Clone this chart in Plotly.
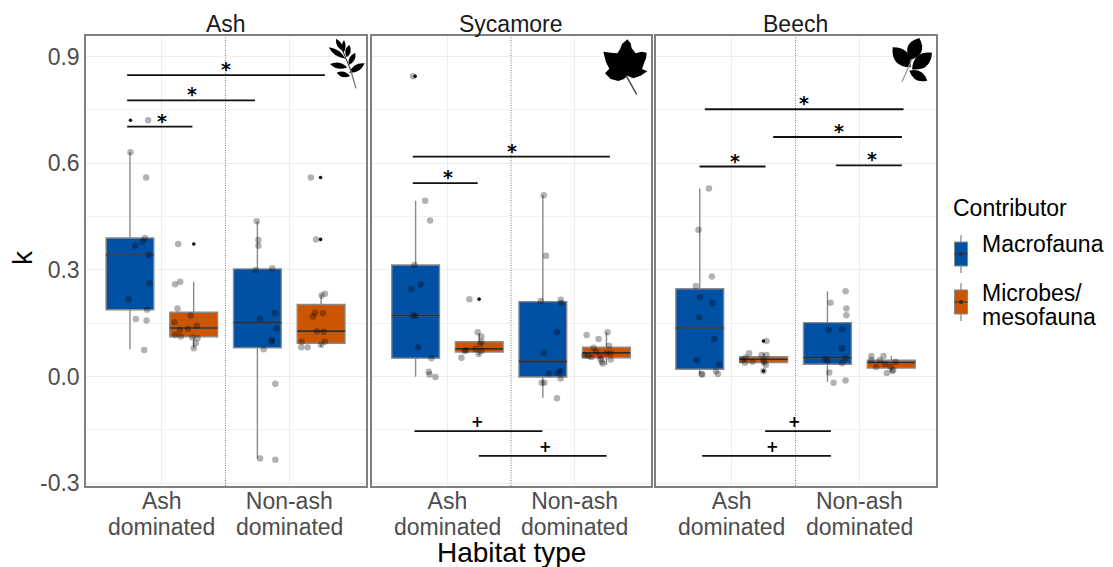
import plotly.graph_objects as go

W, H = 1113, 567
FONT = "Liberation Sans"
BLUE = "#0050A4"
ORANGE = "#CC5500"

categories = ["Ash", "Non-ash"]
category_line2 = ["dominated", "dominated"]
panels = ["Ash", "Sycamore", "Beech"]
box_x = [0.75, 1.25, 1.75, 2.25]
contributors = ["Macrofauna", "Microbes/", "mesofauna"]

# box statistics per panel: macro/ash, micro/ash, macro/non-ash, micro/non-ash
ash_q1 = [0.188, 0.112, 0.081, 0.094]
ash_med = [0.342, 0.137, 0.152, 0.128]
ash_q3 = [0.390, 0.181, 0.303, 0.203]
ash_low = [0.077, 0.080, -0.230, 0.084]
ash_high = [0.631, 0.267, 0.437, 0.230]

syc_q1 = [0.052, 0.069, -0.001, 0.053]
syc_med = [0.172, 0.078, 0.043, 0.067]
syc_q3 = [0.314, 0.098, 0.211, 0.083]
syc_low = [0.000, 0.061, -0.059, 0.033]
syc_high = [0.495, 0.122, 0.510, 0.125]

bee_q1 = [0.021, 0.040, 0.035, 0.024]
bee_med = [0.137, 0.049, 0.053, 0.040]
bee_q3 = [0.247, 0.056, 0.152, 0.046]
bee_low = [0.008, 0.033, -0.014, 0.014]
bee_high = [0.529, 0.066, 0.240, 0.058]

# jittered observations
ash_pts_x = [.754, .877, .867, .848, .791, .898, .903, .739, .885, .796, .880, .862, .893,
             1.128, 1.144, 1.104, 1.123, 1.227, 1.099, 1.274, 1.141, 1.204, 1.104, 1.149, 1.240, 1.280, 1.266, 1.251,
             1.745, 1.758, 1.758, 1.737, 1.867, 1.771, 1.891, 1.899, 1.862, 1.862, 1.799, 1.891, 1.771, 1.891,
             2.170, 2.210, 2.280, 2.254, 2.202, 2.264, 2.186, 2.217, 2.270, 2.097, 2.280, 2.249, 2.094, 2.144]
ash_pts_y = [.631, .560, .390, .380, .368, .342, .263, .218, .188, .162, .158, .075, .721,
             .373, .267, .260, .192, .172, .153, .143, .131, .135, .117, .113, .110, .108, .094, .080,
             .437, .384, .368, .300, .305, .163, .178, .136, .103, .098, .077, -.020, -.230, -.234,
             .560, .386, .233, .228, .180, .178, .169, .128, .126, .098, .098, .090, .083, .083]
ash_out_x = [.754, 1.251, 2.246, 2.246]
ash_out_y = [.721, .373, .560, .386]

syc_pts_x = [.730, .825, .864, .741, .788, .717, .728, .749, .770, .874, .853, .859, .906,
             1.173, 1.238, 1.267, 1.267, 1.257, 1.220, 1.270, 1.134, 1.147, 1.246, 1.110,
             1.757, 1.775, 1.733, 1.890, 1.895, 1.861, 1.757, 1.796, 1.866, 1.890, 1.890, 1.741, 1.762, 1.861,
             2.094, 2.188, 2.259, 2.270, 2.149, 2.170, 2.076, 2.107, 2.131, 2.199, 2.249, 2.283, 2.204, 2.215, 2.220, 2.283]
syc_pts_y = [.845, .495, .439, .314, .259, .246, .172, .171, .083, .052, .014, .006, -.001,
             .218, .125, .113, .098, .092, .078, .072, .072, .074, .064, .053,
             .510, .340, .213, .216, .207, .125, .067, .009, .011, .015, -.005, -.017, -.017, -.061,
             .117, .106, .125, .087, .081, .070, .060, .058, .055, .058, .066, .066, .049, .042, .037, .048]
syc_out_x = [.746, 1.249]
syc_out_y = [.845, .218]

bee_pts_x = [.822, .740, .845, .719, .751, .850, .745, .864, .727, .903, .877, .764, .769, .892,
             1.273, 1.136, 1.234, 1.273, 1.110, 1.084, 1.163, 1.105, 1.268, 1.249, 1.255, 1.249,
             1.892, 1.774, 1.898, 1.898, 1.759, 1.864, 1.864, 1.732, 1.892, 1.751, 1.864, 1.764, 1.798, 1.892,
             2.094, 2.189, 2.160, 2.094, 2.283, 2.199, 2.131, 2.244, 2.265, 2.257, 2.215]
bee_pts_y = [.529, .413, .282, .255, .223, .207, .167, .106, .046, .034, .015, .0075, .006, .0075,
             .100, .066, .061, .061, .054, .047, .042, .039, .033, .045, .040, .016,
             .240, .208, .192, .173, .131, .133, .079, .049, .052, .045, .038, .012, -.017, -.011,
             .058, .058, .047, .047, .042, .035, .027, .028, .019, .016, .010]
bee_out_x = [1.249, 1.249]
bee_out_y = [.100, .016]

# significance bars and their marks
ash_bar_x0 = [.728, .728, .728]
ash_bar_x1 = [2.280, 1.731, 1.240]
ash_bar_y = [.848, .777, .703]
ash_mark_x = [1.500, 1.240, 1.000]
ash_mark = ["*", "*", "*"]

syc_bar_x0 = [.728, .728, .741, 1.246]
syc_bar_x1 = [2.277, 1.238, 1.746, 2.251]
syc_bar_y = [.619, .544, -.153, -.223]
syc_mark_x = [1.505, 1.005, 1.238, 1.770]
syc_mark = ["*", "*", "+", "+"]

bee_bar_x0 = [.790, 1.325, .748, 1.816, 1.262, .769]
bee_bar_x1 = [2.346, 2.333, 1.265, 2.333, 1.777, 1.777]
bee_bar_y = [.752, .674, .591, .594, -.153, -.223]
bee_mark_x = [1.570, 1.843, 1.029, 2.097, 1.493, 1.323]
bee_mark = ["*", "*", "*", "*", "+", "+"]

q1s = [ash_q1, syc_q1, bee_q1]
meds = [ash_med, syc_med, bee_med]
q3s = [ash_q3, syc_q3, bee_q3]
lows = [ash_low, syc_low, bee_low]
highs = [ash_high, syc_high, bee_high]
pts = [(ash_pts_x, ash_pts_y), (syc_pts_x, syc_pts_y), (bee_pts_x, bee_pts_y)]
outs = [(ash_out_x, ash_out_y), (syc_out_x, syc_out_y), (bee_out_x, bee_out_y)]
bars = [(ash_bar_x0, ash_bar_x1, ash_bar_y, ash_mark_x, ash_mark),
        (syc_bar_x0, syc_bar_x1, syc_bar_y, syc_mark_x, syc_mark),
        (bee_bar_x0, bee_bar_x1, bee_bar_y, bee_mark_x, bee_mark)]

panel_px = [(86.0, 365.7), (371.7, 651.0), (655.7, 936.0)]
top_px, bot_px = 36.0, 486.0
YR = [-0.3075, 0.958]


def px(x):
    return x / W


def py(y):
    return 1 - y / H


def text(x, y, s, size, color="#000000", anchor="left"):
    return dict(x=px(x), y=py(y), xref="paper", yref="paper", text=s, showarrow=False, xanchor=anchor,
                yanchor="middle", font=dict(family=FONT, size=size, color=color))


fig = go.Figure()
shapes = []
annotations = []

for i, panel in enumerate(panels):
    s = "" if i == 0 else str(i + 1)
    xa, ya = "x" + s, "y" + s
    # boxes
    for j, bx in enumerate(box_x):
        col = BLUE if j % 2 == 0 else ORANGE
        fig.add_trace(go.Box(x=[bx], q1=[q1s[i][j]], median=[meds[i][j]], q3=[q3s[i][j]],
                             lowerfence=[lows[i][j]], upperfence=[highs[i][j]], width=0.375,
                             fillcolor=col, line=dict(color="#8a8a8a", width=1.4), whiskerwidth=0,
                             boxpoints=False, showlegend=False, xaxis=xa, yaxis=ya, hoverinfo="skip"))
        fig.add_trace(go.Scatter(x=[bx - 0.1875, bx + 0.1875], y=[meds[i][j]] * 2, mode="lines",
                                 line=dict(color="#2f2f2f", width=1.6), showlegend=False,
                                 xaxis=xa, yaxis=ya, hoverinfo="skip"))
    # divider
    fig.add_trace(go.Scatter(x=[1.5, 1.5], y=YR, mode="lines", line=dict(color="#7a7a7a", width=1, dash="1px,1.5px"),
                             showlegend=False, xaxis=xa, yaxis=ya, hoverinfo="skip"))
    # jitter + outliers
    fig.add_trace(go.Scatter(x=pts[i][0], y=pts[i][1], mode="markers",
                             marker=dict(color="rgba(0,0,0,0.3)", size=6.5, line=dict(width=0)),
                             showlegend=False, xaxis=xa, yaxis=ya))
    fig.add_trace(go.Scatter(x=outs[i][0], y=outs[i][1], mode="markers",
                             marker=dict(color="#111111", size=3.6, line=dict(width=0)),
                             showlegend=False, xaxis=xa, yaxis=ya))
    # significance
    x0s, x1s, ys, mxs, ms = bars[i]
    for a, b, y, mx, m in zip(x0s, x1s, ys, mxs, ms):
        fig.add_trace(go.Scatter(x=[a, b], y=[y, y], mode="lines", line=dict(color="#111111", width=1.8),
                                 showlegend=False, xaxis=xa, yaxis=ya, hoverinfo="skip"))
        annotations.append(dict(x=mx, y=y, xref=xa, yref=ya, text=f"<b>{m}</b>", showarrow=False,
                                xanchor="center", yanchor="middle", yshift=6 if m == "*" else 9,
                                font=dict(family="DejaVu Sans", size=19 if m == "*" else 15, color="#000000")))
    # strip title
    annotations.append(text(sum(panel_px[i]) / 2, 24, panel, 23, "#1a1a1a", "center"))
    # second line of tick labels
    for cat, line2 in zip([1, 2], category_line2):
        annotations.append(dict(x=cat, y=py(527), xref=xa, yref="paper", text=line2, showarrow=False,
                                xanchor="center", yanchor="middle",
                                font=dict(family=FONT, size=23, color="#4d4d4d")))
    xax = dict(domain=[px(panel_px[i][0]), px(panel_px[i][1])], range=[0.405, 2.6], tickvals=[1, 2],
               ticktext=categories, ticks="", showgrid=True, gridcolor="#EDEDED", gridwidth=1.4, zeroline=False,
               showline=True, linecolor="#7f7f7f", linewidth=1.5, mirror=True, anchor=ya, automargin=False,
               tickfont=dict(family=FONT, size=23, color="#4d4d4d"), ticklabelstandoff=-6)
    yax = dict(domain=[py(bot_px), py(top_px)], range=YR, tickvals=[-0.3, 0, 0.3, 0.6, 0.9],
               ticktext=["-0.3", "0.0", "0.3", "0.6", "0.9"], ticks="", showgrid=True, gridcolor="#EDEDED",
               gridwidth=1.4, zeroline=False, showline=True, linecolor="#7f7f7f", linewidth=1.5, mirror=True,
               anchor=xa, showticklabels=i == 0, automargin=False,
               minor=dict(tickvals=[-0.15, 0.15, 0.45, 0.75], showgrid=True, gridcolor="#F2F2F2", gridwidth=1),
               tickfont=dict(family=FONT, size=23, color="#4d4d4d"), ticklabelstandoff=0)
    fig.update_layout({"xaxis" + s: xax, "yaxis" + s: yax})

annotations.append(text(511, 552, "Habitat type", 28, "#000000", "center"))
annotations.append(dict(x=px(22), y=py(258), xref="paper", yref="paper", text="k", showarrow=False, textangle=-90,
                        xanchor="center", yanchor="middle", font=dict(family=FONT, size=28, color="#000000")))


def icon(points, ox, oy):
    d = "M" + " L".join(f"{px(ox + a / 3):.5f},{py(oy + b / 3):.5f}" for a, b in points) + " Z"
    return dict(type="path", xref="paper", yref="paper", path=d, fillcolor="#000000", line=dict(width=0), layer="above")


def leaflet(b, t, w, ox, oy):
    # pointed leaf between base b and tip t, in zoom coordinates
    mx, my = (b[0] + t[0]) / 2, (b[1] + t[1]) / 2
    dx, dy = t[0] - b[0], t[1] - b[1]
    L = (dx * dx + dy * dy) ** 0.5
    nx, ny = -dy / L * w, dx / L * w
    c = lambda a, e: f"{px(ox + a / 3):.5f},{py(oy + e / 3):.5f}"
    d = (f"M{c(*b)} Q{c(mx + 2 * nx, my + 2 * ny)} {c(*t)} Q{c(mx - 2 * nx, my - 2 * ny)} {c(*b)} Z")
    return dict(type="path", xref="paper", yref="paper", path=d, fillcolor="#000000", line=dict(width=0), layer="above")


def stem(a, b, ox, oy, col="#555555", w=1.3):
    return dict(type="line", xref="paper", yref="paper", x0=px(ox + a[0] / 3), y0=py(oy + a[1] / 3),
                x1=px(ox + b[0] / 3), y1=py(oy + b[1] / 3), line=dict(color=col, width=w), layer="above")


# Ash leaf
for b, t, w in [((868, 188), (914, 160), 10), ((870, 198), (830, 188), 8), ((862, 172), (810, 162), 9),
                ((866, 165), (886, 128), 8), ((856, 146), (806, 112), 8), ((860, 142), (868, 104), 8),
                ((848, 122), (828, 86), 7), ((850, 128), (852, 90), 6)]:
    shapes.append(leaflet(b, t, w, 60, 10))
shapes.append(stem((888, 235), (872, 180), 60, 10, "#777777", 1.3))
shapes.append(stem((872, 180), (845, 115), 60, 10, "#222222", 1.0))

# Sycamore leaf
syc_leaf = [(772, 88), (782, 100), (785, 115), (797, 130), (815, 125), (830, 128), (828, 145), (822, 160), (816, 177),
            (832, 184), (812, 197), (790, 205), (772, 197), (762, 207), (745, 213), (722, 207), (705, 190), (718, 176),
            (708, 157), (700, 125), (722, 128), (742, 130), (750, 118), (756, 102)]
shapes.append(icon(syc_leaf, 370, 10))
shapes.append(stem((768, 196), (800, 253), 370, 10, "#444444", 1.4))

# Beech leaves
for b, t, w in [((782, 172), (728, 112), 22), ((780, 150), (808, 84), 22), ((786, 178), (846, 128), 20),
                ((778, 182), (832, 212), 14)]:
    shapes.append(leaflet(b, t, w, 650, 10))
shapes.append(stem((756, 215), (786, 148), 650, 10, "#999999", 1.3))

# legend keys
key_x = 961.0
for (y_low, y0, y1, y_high, col) in [(273, 266, 242, 235, BLUE), (321, 314, 290, 283, ORANGE)]:
    shapes.append(dict(type="line", xref="paper", yref="paper", x0=px(key_x), x1=px(key_x), y0=py(y_low), y1=py(y_high),
                       line=dict(color="#8a8a8a", width=1.3)))
    shapes.append(dict(type="rect", xref="paper", yref="paper", x0=px(key_x - 6.5), x1=px(key_x + 6.5), y0=py(y0), y1=py(y1),
                       fillcolor=col, line=dict(color="#8a8a8a", width=1)))
    m = (y0 + y1) / 2
    shapes.append(dict(type="line", xref="paper", yref="paper", x0=px(key_x - 6.5), x1=px(key_x + 6.5), y0=py(m), y1=py(m),
                       line=dict(color="#2f2f2f", width=1)))
    shapes.append(dict(type="circle", xref="paper", yref="paper", x0=px(key_x - 2), x1=px(key_x + 2), y0=py(m + 2), y1=py(m - 2),
                       fillcolor="#2f2f2f", line=dict(width=0)))

annotations.append(text(950.5, 208, "Contributor", 23))
annotations.append(text(980, 244, contributors[0], 23))
annotations.append(text(980, 293, contributors[1], 23))
annotations.append(text(980, 317, contributors[2], 23))

fig.update_layout(width=W, height=H, margin=dict(l=0, r=0, t=0, b=0), paper_bgcolor="white", plot_bgcolor="white",
                  showlegend=False, boxmode="overlay", shapes=shapes, annotations=annotations,
                  font=dict(family=FONT))

fig.write_html("out.html", config=dict(displayModeBar=False),
               post_script="document.body.style.margin='0';document.body.style.overflow='hidden';")
